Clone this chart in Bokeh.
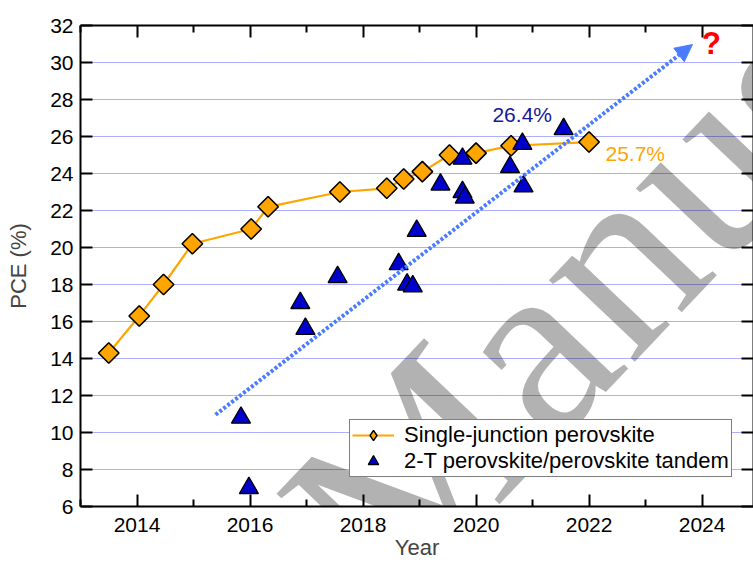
from bokeh.plotting import figure
from bokeh.models import (Range1d, FixedTicker, LinearAxis, Label, Arrow,
                          NormalHead, Legend, LegendItem, ColumnDataSource,
                          CustomJSTickFormatter)
from bokeh.embed import file_html
from bokeh.resources import INLINE

# ---------------- data ----------------
sj_year = [2013.5, 2014.04, 2014.47, 2014.98, 2016.02, 2016.32, 2017.59,
           2018.42, 2018.72, 2019.05, 2019.53, 2020.0, 2020.62, 2022.0]
sj_pce = [14.3, 16.3, 18.0, 20.2, 21.0, 22.2, 23.0,
          23.2, 23.7, 24.1, 25.0, 25.1, 25.5, 25.7]

tan_year = [2015.84, 2015.98, 2016.89, 2016.98, 2017.55, 2018.63, 2018.78,
            2018.88, 2018.95, 2019.37, 2019.76, 2019.76, 2019.8, 2020.6,
            2020.82, 2020.84, 2021.55]
tan_pce = [10.8, 7.0, 17.0, 15.6, 18.4, 19.1, 18.0,
           17.9, 20.9, 23.4, 24.8, 23.0, 22.7, 24.35,
           25.6, 23.3, 26.4]

trend_x = [2015.39, 2023.83]
trend_y = [10.96, 30.97]

x_ticks = [2014, 2016, 2018, 2020, 2022, 2024]
x_minor = [2013, 2015, 2017, 2019, 2021, 2023, 2025]
y_ticks = [6, 8, 10, 12, 14, 16, 18, 20, 22, 24, 26, 28, 30, 32]

FONT = "Liberation Sans"
ORANGE = "#ffa500"
BLUE = "#0000cc"

p = figure(width=753, height=566, output_backend="svg", toolbar_location=None,
           x_range=Range1d(2013, 2024.91), y_range=Range1d(6, 32),
           min_border_left=80, min_border_top=25, min_border_right=0,
           min_border_bottom=60, background_fill_color="white",
           border_fill_color="white", outline_line_color=None)

def style_axis(ax, show_labels=True, minor=True):
    ax.axis_line_width = 2
    ax.axis_line_color = "black"
    ax.major_tick_in = 12
    ax.major_tick_out = 0
    ax.major_tick_line_width = 2
    ax.minor_tick_in = 7 if minor else 0
    ax.minor_tick_out = 0
    ax.minor_tick_line_width = 2
    if not minor:
        ax.minor_tick_line_color = None
    ax.major_label_text_font = FONT
    ax.major_label_text_color = "black"
    if show_labels:
        ax.major_label_text_font_size = "21px"
    else:
        ax.formatter = CustomJSTickFormatter(code="return ''")
        ax.major_label_text_font_size = "1px"
        ax.major_label_standoff = 0

p.xaxis.ticker = FixedTicker(ticks=x_ticks, minor_ticks=x_minor)
p.yaxis.ticker = FixedTicker(ticks=y_ticks, minor_ticks=[])
style_axis(p.xaxis[0])
style_axis(p.yaxis[0], minor=False)
p.xaxis.major_label_standoff = 11
p.yaxis.major_label_standoff = 7
p.yaxis.axis_label = "PCE (%)"
p.yaxis.axis_label_text_font = FONT
p.yaxis.axis_label_text_font_size = "22px"
p.yaxis.axis_label_text_font_style = "normal"
p.yaxis.axis_label_standoff = 16
p.xaxis.axis_label = "Year"
p.xaxis.axis_label_text_font = FONT
p.xaxis.axis_label_text_font_size = "22px"
p.xaxis.axis_label_text_font_style = "normal"
p.xaxis.axis_label_standoff = 0

top = LinearAxis(ticker=FixedTicker(ticks=x_ticks, minor_ticks=x_minor))
style_axis(top, show_labels=False)
p.add_layout(top, "above")
right = LinearAxis(ticker=FixedTicker(ticks=y_ticks, minor_ticks=[]))
style_axis(right, show_labels=False, minor=False)
p.add_layout(right, "right")

# grid
p.xgrid.grid_line_color = None
p.ygrid.ticker = FixedTicker(ticks=y_ticks[1:-1])
p.ygrid.grid_line_color = "#5c5cff"
p.ygrid.grid_line_dash = "1 1"
p.ygrid.grid_line_width = 1

# trend arrow
p.add_layout(Arrow(x_start=trend_x[0], y_start=trend_y[0],
                   x_end=trend_x[1], y_end=trend_y[1],
                   line_color="#4a7cff", line_width=4, line_dash="3 2",
                   end=NormalHead(size=17, fill_color="#4a7cff",
                                  line_color="#4a7cff", line_width=1)))

# series
sj_src = ColumnDataSource(dict(x=sj_year, y=sj_pce))
tan_src = ColumnDataSource(dict(x=tan_year, y=tan_pce))
sj_line = p.line("x", "y", source=sj_src, line_color=ORANGE, line_width=2.2)
# legend key for the diamonds (size 0: invisible in the plot itself)
sj_key = p.scatter("x", "y", source=sj_src, marker="diamond", size=0,
                   fill_color=ORANGE, line_color="black", line_width=1.4)
sj_pts = p.scatter("x", "y", source=sj_src, marker="square", size=14.5,
                   angle=0.785398, fill_color=ORANGE, line_color="black",
                   line_width=1.6)
tan_pts = p.scatter("x", "y", source=tan_src, marker="triangle", size=19,
                    fill_color=BLUE, line_color="black", line_width=1.3)

# annotations
p.add_layout(Label(x=2020.29, y=27.2, text="26.4%", text_font=FONT,
                   text_font_size="21px", text_color="#16169e",
                   text_baseline="middle", text_align="left"))
p.add_layout(Label(x=2022.29, y=25.06, text="25.7%", text_font=FONT,
                   text_font_size="21px", text_color=ORANGE,
                   text_baseline="middle", text_align="left"))

legend = Legend(items=[
    LegendItem(label="Single-junction perovskite", renderers=[sj_line, sj_key]),
    LegendItem(label="2-T perovskite/perovskite tandem", renderers=[tan_pts]),
], location=(269, 29))
legend.label_text_font = FONT
legend.label_text_font_size = "22px"
legend.label_text_color = "black"
legend.border_line_color = "black"
legend.border_line_width = 1
legend.background_fill_color = "white"
legend.background_fill_alpha = 1
legend.padding = 2
legend.spacing = -1
legend.margin = 0
legend.label_height = 26
legend.glyph_height = 26
legend.glyph_width = 42
legend.label_standoff = 10
p.add_layout(legend, "center")

# watermark
p.add_layout(Label(x=2017.43, y=3.35, text="Manuscript",
                   text_font="Liberation Serif",
                   text_font_size="258px", text_color="black", text_alpha=0.3,
                   angle=46.5, angle_units="deg", text_align="left",
                   text_baseline="alphabetic"))

# red question mark drawn above the watermark
p.add_layout(Label(x=2024.0, y=31.03, text="?", text_font=FONT,
                   text_font_size="31px", text_font_style="bold",
                   text_color="#ff0000", text_baseline="middle",
                   text_align="left"))

open("out.html", "w").write(file_html(p, INLINE))
